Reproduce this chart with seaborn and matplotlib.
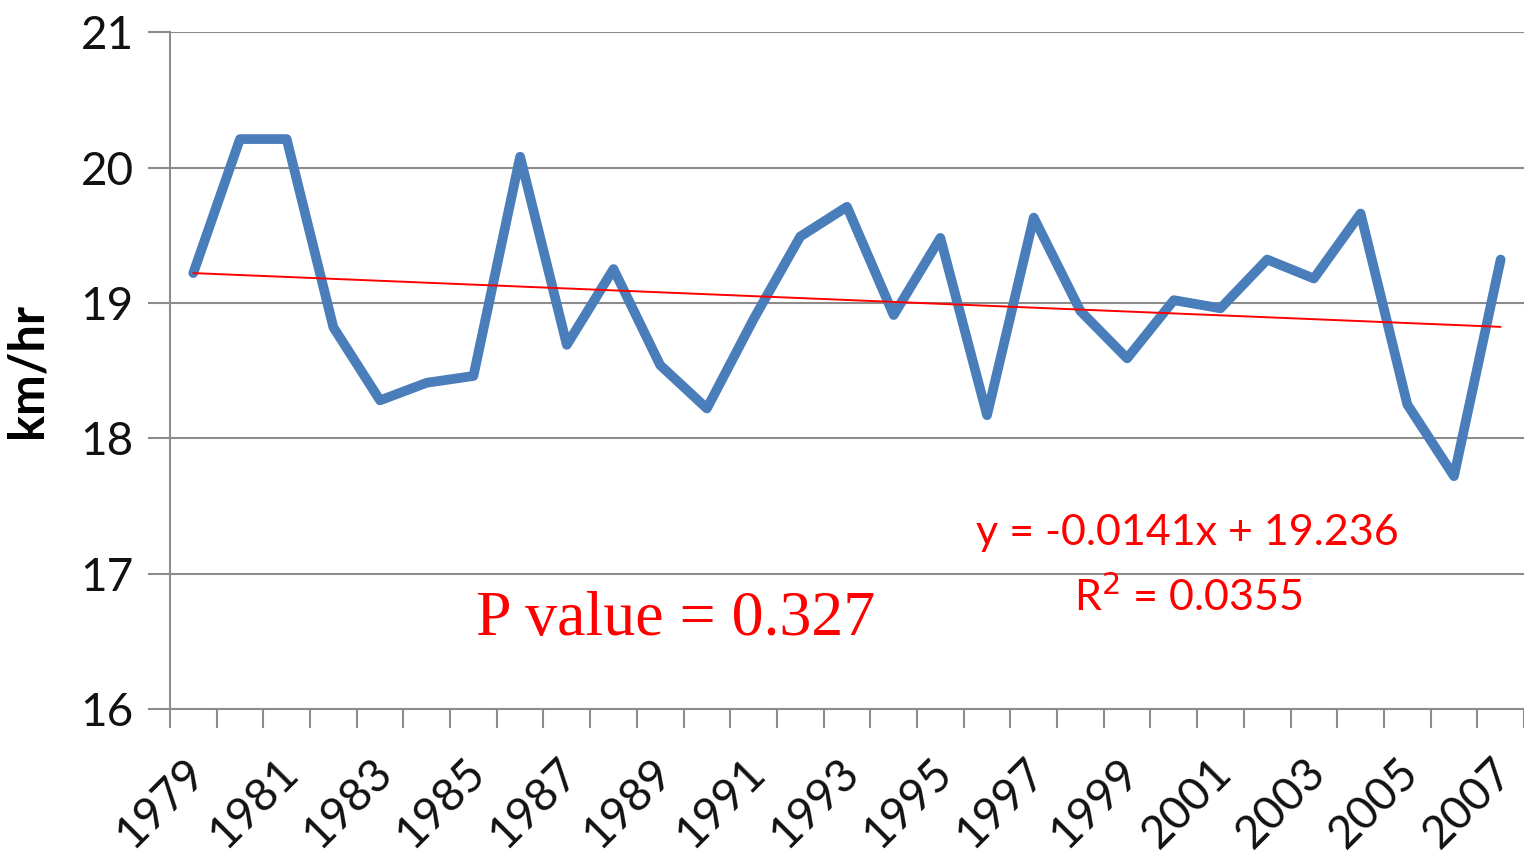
import matplotlib
matplotlib.use("Agg")
import matplotlib.pyplot as plt
import seaborn as sns
import numpy as np
import pandas as pd

years = list(range(1979, 2008))
speed = [19.22, 20.21, 20.21, 18.82, 18.28, 18.41, 18.46, 20.08, 18.69, 19.25,
         18.54, 18.22, 18.88, 19.49, 19.71, 18.91, 19.48, 18.17, 19.63, 18.94,
         18.59, 19.02, 18.96, 19.32, 19.18, 19.66, 18.25, 17.72, 19.32]
y_ticks = [16, 17, 18, 19, 20, 21]
x_labels = [str(y) for y in years[::2]]
equation_text = "y = -0.0141x + 19.236"
r2_text = "R$^2$ = 0.0355"
p_text = "P value = 0.327"

sns.set_theme(style="white")
plt.rcParams['font.family'] = ['Lato', 'DejaVu Sans']

df = pd.DataFrame({"idx": np.arange(len(years)), "speed": speed})

fig = plt.figure(figsize=(15.24, 8.59), dpi=100)
ax = fig.add_axes([0.1115, 0.1746, 0.8885, 0.788])

ax.set_ylim(16, 21)
ax.set_xlim(-0.5, len(years) - 0.5)
ax.set_yticks(y_ticks)
ax.yaxis.grid(True, color="#8c8c8c", lw=1.5)
ax.set_axisbelow(True)

sns.lineplot(data=df, x="idx", y="speed", ax=ax, color="#4a7ebb", lw=7,
             solid_joinstyle="round", solid_capstyle="round")
sns.regplot(data=df, x="idx", y="speed", ax=ax, scatter=False, ci=None,
            truncate=True, line_kws=dict(color="#ff0000", lw=1.4))

for s in ["top", "right"]:
    ax.spines[s].set_visible(False)
for s in ["left", "bottom"]:
    ax.spines[s].set_color("#8c8c8c")
    ax.spines[s].set_linewidth(1.5)

ax.set_xticks(np.arange(0, len(years), 2))
ax.set_xticklabels(x_labels, rotation=45, ha="right", va="top",
                   rotation_mode="anchor", fontsize=33, color="#111111")
ax.set_xticks(np.arange(-0.5, len(years), 1), minor=True)
ax.tick_params(axis="x", which="major", length=0, pad=30)
ax.tick_params(axis="x", which="minor", length=14, width=1.5, color="#8c8c8c",
               direction="out", bottom=True)
ax.tick_params(axis="y", length=16, width=1.5, color="#8c8c8c", left=True,
               labelsize=33, labelcolor="#111111", pad=10)
for lab in ax.get_xticklabels():
    lab.set_transform(lab.get_transform() + matplotlib.transforms.ScaledTranslation(-0.1, 0, fig.dpi_scale_trans))

ax.set_xlabel("")
ax.set_ylabel("km/hr", fontsize=35, fontweight="bold", labelpad=22, color="#000000")

ax.text(21.3, 17.3, equation_text, color="#ff0000", fontsize=31, ha="center", va="center")
ax.text(21.3, 16.83, r2_text, color="#ff0000", fontsize=31, ha="center", va="center")
ax.text(10.34, 16.66, p_text, color="#ff0000", fontsize=46, ha="center", va="center",
        family="Liberation Serif")

fig.savefig("out.png", dpi=100)
